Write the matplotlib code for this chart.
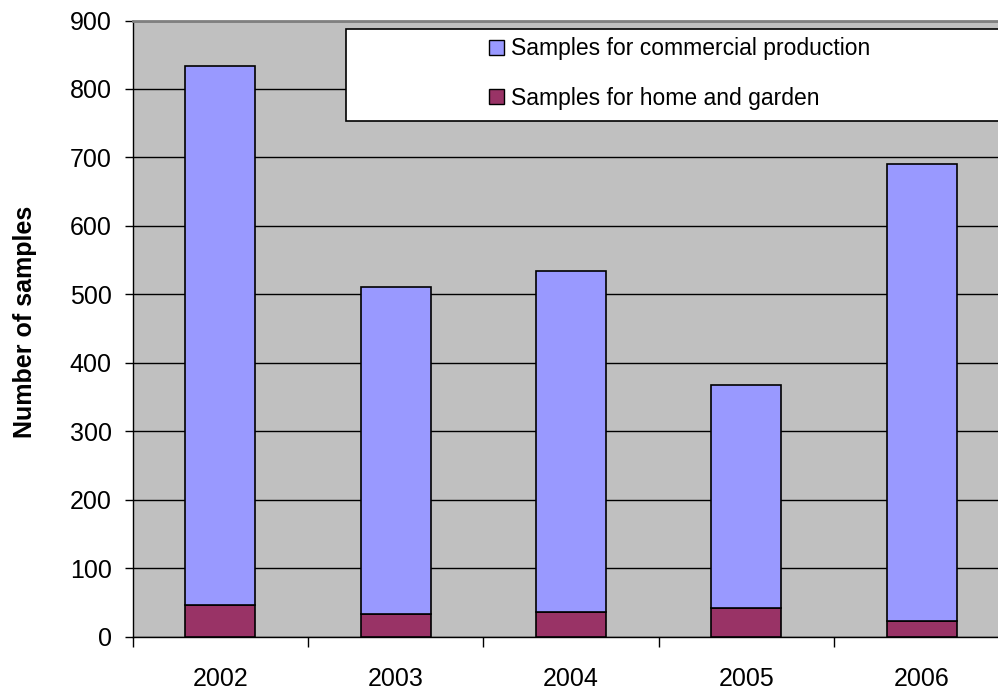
import matplotlib
matplotlib.use("Agg")
import matplotlib.pyplot as plt
from matplotlib.patches import Rectangle, Patch
import numpy as np

plt.rcParams["font.family"] = ["Liberation Sans", "DejaVu Sans"]

years = ["2002", "2003", "2004", "2005", "2006"]
home_garden = [46, 33, 36, 41, 23]
commercial = [787, 477, 498, 327, 667]

commercial_color = "#9999FF"
home_color = "#993366"

fig = plt.figure(figsize=(9.98, 6.9), dpi=100)
# plot area runs past the right edge of the picture, like the source
ax = fig.add_axes([132.5 / 998, 53.5 / 690, 877 / 998, 616 / 690])
ax.set_facecolor("#C0C0C0")

x = np.arange(len(years))
ax.bar(x, home_garden, width=0.4, color=home_color, edgecolor="black", linewidth=1.2, zorder=3)
ax.bar(x, commercial, width=0.4, bottom=home_garden, color=commercial_color,
       edgecolor="black", linewidth=1.2, zorder=3)

ax.set_xlim(-0.5, len(years) - 0.5)
ax.set_ylim(0, 900)
ax.set_yticks(range(0, 901, 100))
ax.yaxis.grid(True, color="black", linewidth=1.0, zorder=1)
ax.set_axisbelow(True)

ax.set_xticks(x)
ax.set_xticklabels(years)
ax.set_xticks(np.arange(-0.5, len(years), 1), minor=True)
ax.tick_params(axis="x", which="major", length=0, pad=22, labelsize=18)
ax.tick_params(axis="x", which="minor", length=7, width=1, direction="out")
ax.tick_params(axis="y", length=6, width=1, direction="out", pad=9, labelsize=18)

for side in ("left", "bottom"):
    ax.spines[side].set_color("black")
    ax.spines[side].set_linewidth(1)
for side in ("top", "right"):
    ax.spines[side].set_color("#808080")
    ax.spines[side].set_linewidth(2)

ax.set_ylabel("Number of samples", fontsize=18, fontweight="bold")
ax.yaxis.set_label_coords(-0.109, 0.51)

# legend box
box = Rectangle((346 / 998, 1 - 121 / 690), 0.7, 92 / 690, transform=fig.transFigure,
                facecolor="white", edgecolor="black", linewidth=1.2, zorder=5)
fig.add_artist(box)
handles = [Patch(facecolor=commercial_color, edgecolor="black"),
           Patch(facecolor=home_color, edgecolor="black")]
leg = fig.legend(handles, ["Samples for commercial production", "Samples for home and garden"],
                 loc="center left", bbox_to_anchor=(489 / 998, 1 - 73.5 / 690),
                 frameon=False, fontsize=16.5, handlelength=0.65, handleheight=0.65,
                 handletextpad=0.3, labelspacing=1.15, borderpad=0, borderaxespad=0)
leg.set_zorder(6)

fig.savefig("out.png", dpi=100)
